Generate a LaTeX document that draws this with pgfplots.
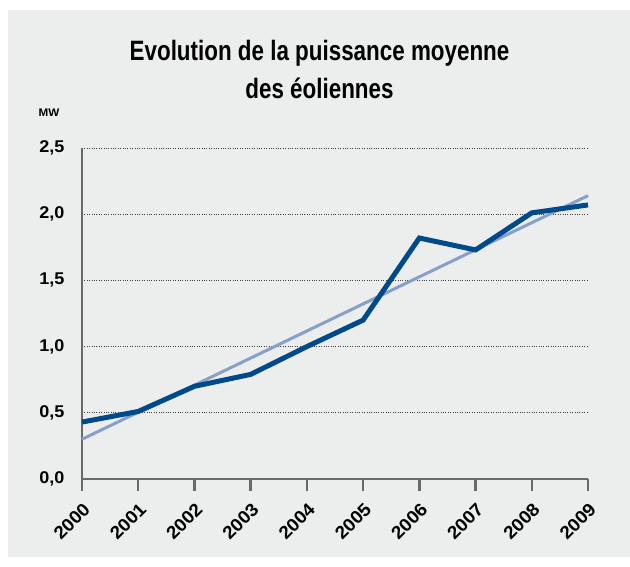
\documentclass[border=0pt]{standalone}
\usepackage{fontspec}
\setmainfont{Liberation Sans}
\newfontfamily\condfont[FakeStretch=0.8]{Liberation Sans}
\newfontfamily\tickfont[FakeStretch=1.06]{Liberation Sans}
\usepackage{pgfplots}
\pgfplotsset{compat=1.18}
\definecolor{panel}{RGB}{236,237,237}
\definecolor{darkline}{RGB}{0,74,140}
\definecolor{lightline}{RGB}{135,160,200}
\definecolor{axisgray}{RGB}{105,105,105}
\begin{document}
\begin{tikzpicture}[x=1bp,y=1bp]
\fill[white] (0,0) rectangle (630,567);
\fill[panel] (8,10) rectangle (630,557);
\node[anchor=base] at (319.5,506) {\condfont\bfseries\fontsize{28bp}{32bp}\selectfont Evolution de la puissance moyenne};
\node[anchor=base] at (319.5,468) {\condfont\bfseries\fontsize{28bp}{32bp}\selectfont des éoliennes};
\node[anchor=base] at (49,450) {\tickfont\bfseries\fontsize{11bp}{13bp}\selectfont MW};
\begin{axis}[
  at={(82bp,88bp)}, anchor=south west,
  scale only axis, width=506bp, height=331bp,
  xmin=2000, xmax=2009, ymin=0, ymax=2.5,
  axis x line=bottom, axis y line=left,
  axis line style={-, axisgray, line width=2.4bp},
  xtick={2000,...,2009},
  ytick={0,0.5,...,2.5},
  major tick length=0pt,
  ymajorgrids,
  major grid style={black!75, dotted, line width=0.7bp},
  /pgf/number format/assume math mode=true,
  x tick label style={/pgf/number format/1000 sep={}},
  y tick label style={/pgf/number format/fixed, /pgf/number format/fixed zerofill, /pgf/number format/precision=1, /pgf/number format/use comma},
  xticklabel style={font=\tickfont\bfseries\fontsize{18bp}{20bp}\selectfont, anchor=east, inner sep=0pt, xshift=5bp, yshift=-27bp, rotate=45},
  yticklabel style={font=\tickfont\bfseries\fontsize{17bp}{19bp}\selectfont, xshift=-14bp},
  clip=false,
]
\pgfplotsinvokeforeach{2000,2001,2002,2003,2004,2005,2006,2007,2008,2009}{
  \draw[axisgray, line width=2.4bp] (axis cs:#1,0) -- (axis cs:#1,-0.09);
}
\addplot[lightline, line width=3bp] coordinates {(2000,0.30) (2009,2.14)};
\addplot[darkline, line width=5bp, line join=miter] coordinates {
(2000,0.43) (2001,0.51) (2002,0.70) (2003,0.79) (2004,1.00)
(2005,1.20) (2006,1.82) (2007,1.73) (2008,2.01) (2009,2.07)};
\end{axis}
\pgfresetboundingbox
\useasboundingbox (0,0) rectangle (630,567);
\end{tikzpicture}
\end{document}
